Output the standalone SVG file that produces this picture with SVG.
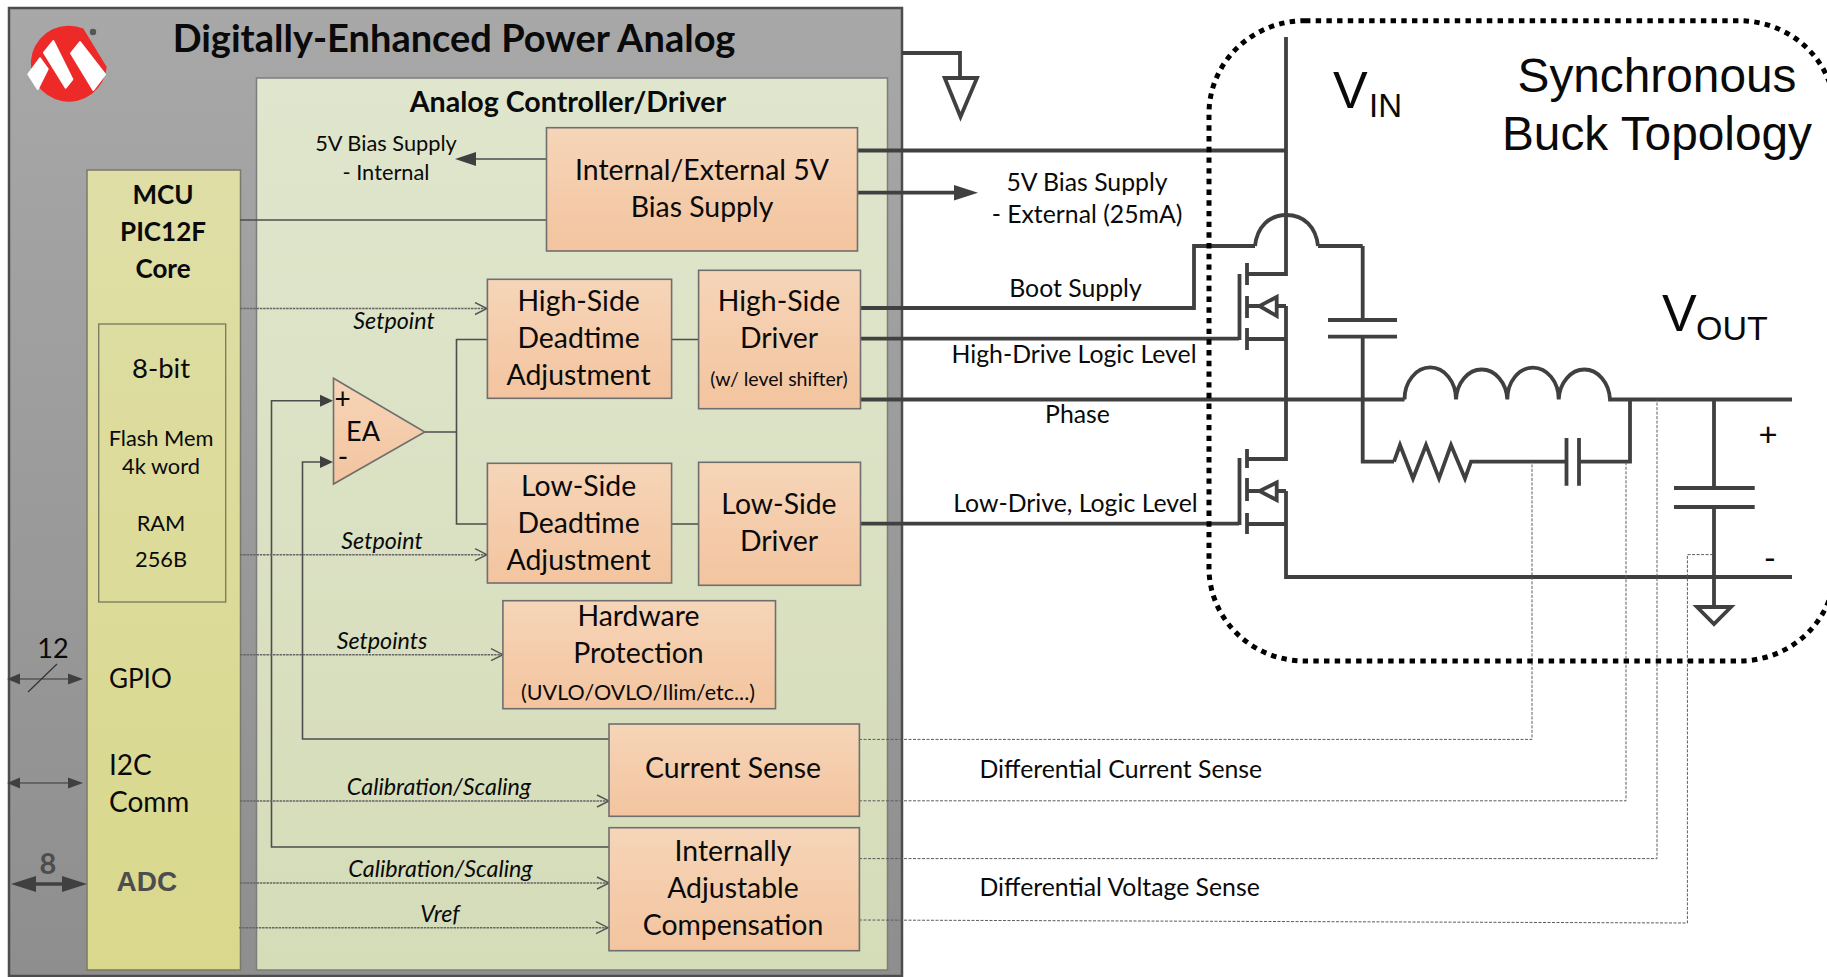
<svg xmlns="http://www.w3.org/2000/svg" width="1827" height="977" viewBox="0 0 1827 977">
<style>
text{font-family:"Lato","Carlito","Liberation Sans",sans-serif;fill:#0a0a0a;text-anchor:middle}
.b{font-weight:700}
.box{font-size:28.400px}
.hd1{font-size:26px}
.sm{font-size:21.800px}
.rt{font-size:24.800px}
.i{font-size:23.300px;font-style:italic}
.ar{font-family:"Liberation Sans",Arial,sans-serif;text-anchor:start}
.st{text-anchor:start}
.node{fill:url(#org);stroke:#6f6f6f;stroke-width:1.6}
.thin{fill:none;stroke:#4d4d4d;stroke-width:1.6}
.dot{fill:none;stroke:#666;stroke-width:1.500;stroke-dasharray:2.500 .8}
.sense{fill:none;stroke:#5c5c5c;stroke-width:1;stroke-dasharray:3 1.500}
.wire{fill:none;stroke:#404040;stroke-width:3.800;stroke-linejoin:miter}
.open{fill:none;stroke:#555;stroke-width:1.400}
.hdd{fill:#404040}
</style>
<defs>
<linearGradient id="gry" x1="0" y1="0" x2="0" y2="1"><stop offset="0" stop-color="#a8a8a8"/><stop offset="1" stop-color="#8e8e8e"/></linearGradient>
<linearGradient id="grn" x1="0" y1="0" x2="0" y2="1"><stop offset="0" stop-color="#e0e6cd"/><stop offset="1" stop-color="#d5dcb8"/></linearGradient>
<linearGradient id="mcu" x1="0" y1="0" x2="0" y2="1"><stop offset="0" stop-color="#dfdea6"/><stop offset="1" stop-color="#d9d88c"/></linearGradient>
<linearGradient id="org" x1="0" y1="0" x2="0" y2="1"><stop offset="0" stop-color="#f6d5b8"/><stop offset="1" stop-color="#f3c49f"/></linearGradient>
<marker id="op" markerWidth="16" markerHeight="16" refX="13" refY="7" orient="auto" markerUnits="userSpaceOnUse"><path d="M1 1L13 7L1 13" class="open"/></marker>
</defs>

<g id="panel">
<rect x="9" y="8" width="893" height="968" fill="url(#gry)" stroke="#4d4d4d" stroke-width="2.500"/>
<rect x="256.500" y="78" width="631" height="892" fill="url(#grn)" stroke="#7d7d7d" stroke-width="1.500"/>
<text x="454" y="52" class="b" font-size="38">Digitally-Enhanced Power Analog</text>
<text x="568" y="112" class="b" font-size="28.600">Analog Controller/Driver</text>
</g>

<g id="logo">
<path d="M83.300 28.500A38 38 0 1 0 106.700 67Z" fill="#ed2a28"/>
<path d="M80 42L105 74.300L93.300 90L71 53.300ZM53.300 41L72.300 79.300L65.700 87.700L44 52.700ZM40 58.300L47.700 69L37.700 89L28.300 74.300Z" fill="#fff" stroke="#fff" stroke-width="2" stroke-linejoin="round"/>
<circle cx="93" cy="32" r="3.200" fill="#555"/>
</g>

<g id="mcu-core">
<rect x="87" y="170" width="153.500" height="800" fill="url(#mcu)" stroke="#7a7a6a" stroke-width="1.500"/>
<text x="163" y="204" class="b hd1">MCU</text>
<text x="163" y="241" class="b hd1">PIC12F</text>
<text x="163" y="278" class="b hd1">Core</text>
<rect x="98.700" y="324" width="127" height="278" fill="none" stroke="#77775f" stroke-width="1.300"/>
<text x="161" y="378" font-size="27.500">8-bit</text>
<text x="161" y="446" class="sm">Flash Mem</text>
<text x="161" y="474" class="sm">4k word</text>
<text x="161" y="531" class="sm">RAM</text>
<text x="161" y="567" class="sm">256B</text>
<text x="109" y="688" class="st" font-size="26">GPIO</text>
<text x="109" y="775" class="st" font-size="28">I2C</text>
<text x="109" y="812" class="st" font-size="28">Comm</text>
<text x="116.500" y="891" class="ar b" font-size="28" style="fill:#4d4d4d">ADC</text>
</g>

<g id="connectors">
<path class="thin" d="M240 220H548M546 159H476"/>
<path class="hdd" d="M455 159L476 152V166Z"/>
<path class="thin" d="M425 432H456.500M487 339.500H456.500V524H487M671.600 339.500H698.600M671.600 524H698.600"/>
<path class="thin" d="M609 847H271.500V400.700H324M609 739H302.500V462H324"/>
<path class="hdd" d="M333 400.700L320 394.700V406.700ZM333 462L320 456V468Z"/>
<path class="dot" d="M240 308.500H487" marker-end="url(#op)"/>
<path class="dot" d="M240 554.700H487" marker-end="url(#op)"/>
<path class="dot" d="M240 654.700H503" marker-end="url(#op)"/>
<path class="dot" d="M240 801H609" marker-end="url(#op)"/>
<path class="dot" d="M240 883H609" marker-end="url(#op)"/>
<path class="dot" d="M239 927.700H608" marker-end="url(#op)"/>
<path class="thin" style="stroke-width:1.500;stroke:#555" d="M14 679H76M14 783H76"/>
<path class="hdd" d="M7 679L20 673.500V684.500ZM83 679L68 673.500V684.500ZM7 783L20 777.500V788.500ZM83 783L68 777.500V788.500Z"/>
<path d="M28 692L57 664" stroke="#333" stroke-width="1.200" fill="none"/>
<path d="M30 884H70" stroke="#404040" stroke-width="3.500"/>
<path class="hdd" d="M11 884L36 876V892ZM87 884L62 876V892Z"/>

<path class="wire" d="M857 150.500H1286M857 192.700H956M860 308H1194V246H1255M1318 246H1362.700"/>
<path class="hdd" d="M978 192.700L954 185V200.500Z"/>
<path class="wire" d="M1255 246C1257 227 1269 215 1286.500 215C1304 215 1316 227 1318 246"/>
<path class="wire" d="M860 338.700H1239M860 399.500H1404.500M860 523.700H1239"/>
<path class="wire" d="M1286 37V274H1248M1362.700 246V320M1328 320H1397M1328 336.700H1397M1362.700 336.700V461.700H1394"/>
<path class="wire" d="M1286 306V459H1248M1286 339H1248M1286 491V577H1792M1286 524H1248M1286 491H1276.700M1286 306H1276.700"/>
<path class="wire" d="M1239.500 274V340M1247 263V285M1247 296V318M1247 328V350M1247 306H1259M1276.700 297L1259.500 306L1276.700 316ZM1239.500 458V525M1247 449V468M1247 478V501M1247 513V534M1247 491H1259M1276.700 482.500L1259.500 491L1276.700 500Z"/>
<path class="wire" d="M1404.500 399.500A25.700 32 0 0 1 1456 399.500A25.700 32 0 0 1 1507.300 399.500A25.700 32 0 0 1 1558.700 399.500A25.700 32 0 0 1 1610 399.500H1792"/>
<path class="wire" d="M1394 461.700L1400 445L1413 478.400L1426 445L1439 478.400L1451 445L1465 478.400L1471 461.700H1566.500M1566.500 438V485.800M1579 438V485.800M1579 461.700H1630V399.500"/>
<path class="wire" d="M1714 399.500V488M1674 488H1754.700M1674 507H1754.700M1714 507V607M1697 607H1731L1714 624Z"/>
<path class="wire" d="M902 53H960V78M944.700 78H977L960.500 116.700Z"/>

<path class="sense" d="M859 739.400H1532V461.700"/>
<path class="sense" d="M859 800.800H1626V461.700"/>
<path class="sense" d="M859 858.600H1657V399.500"/>
<path class="sense" d="M859 920L1687.400 923V554.600H1714"/>

<rect id="topology-boundary" x="1209" y="20.700" width="626" height="640.300" rx="96" ry="93" fill="none" stroke="#000" stroke-width="5" stroke-dasharray="5.400 5.300"/>
</g>

<g id="bias"><rect class="node" x="546.500" y="127.700" width="311" height="123.300"/>
<text x="702" y="180" class="box">Internal/External 5V</text><text x="702" y="217" class="box">Bias Supply</text></g>
<g id="hs-deadtime"><rect class="node" x="487.400" y="279.300" width="184.200" height="119"/>
<text x="578.600" y="311" class="box">High-Side</text><text x="578.600" y="348" class="box">Deadtime</text><text x="578.600" y="385" class="box">Adjustment</text></g>
<g id="hs-driver"><rect class="node" x="698.600" y="270.300" width="161.900" height="138.400"/>
<text x="779" y="311" class="box">High-Side</text><text x="779" y="348" class="box">Driver</text><text x="779" y="386" font-size="19.500">(w/ level shifter)</text></g>
<g id="ls-deadtime"><rect class="node" x="487.400" y="463.300" width="184.200" height="119.700"/>
<text x="578.600" y="496" class="box">Low-Side</text><text x="578.600" y="533" class="box">Deadtime</text><text x="578.600" y="569.500" class="box">Adjustment</text></g>
<g id="ls-driver"><rect class="node" x="698.600" y="462.300" width="161.900" height="123"/>
<text x="779" y="513.500" class="box">Low-Side</text><text x="779" y="551" class="box">Driver</text></g>
<g id="ea"><path class="node" d="M333.500 378.300L424.800 432L333.500 484Z"/>
<text x="363" y="441" font-size="27">EA</text><text x="342.500" y="409" font-size="28">+</text><text x="343" y="467" font-size="28">-</text></g>
<g id="hw-protection"><rect class="node" x="502.900" y="600.700" width="272.600" height="108"/>
<text x="638.400" y="625.500" class="box">Hardware</text><text x="638.400" y="663" class="box">Protection</text><text x="638" y="700" font-size="21.500">(UVLO/OVLO/Ilim/etc...)</text></g>
<g id="current-sense"><rect class="node" x="609" y="724" width="250.400" height="92.300"/>
<text x="733" y="778" class="box">Current Sense</text></g>
<g id="compensation"><rect class="node" x="609" y="827.700" width="250.400" height="123"/>
<text x="733" y="861" class="box">Internally</text><text x="733" y="897.500" class="box">Adjustable</text><text x="733" y="935" class="box">Compensation</text></g>

<g id="labels">
<text x="386" y="151" class="sm">5V Bias Supply</text><text x="386" y="180" class="sm">- Internal</text>
<text x="394" y="329" class="i">Setpoint</text><text x="382" y="549" class="i">Setpoint</text><text x="382" y="649" class="i">Setpoints</text>
<text x="439" y="795" class="i">Calibration/Scaling</text><text x="440.500" y="877" class="i">Calibration/Scaling</text><text x="440" y="922" class="i">Vref</text>
<text x="53" y="658" font-size="27">12</text>
<text x="48" y="874" font-size="29" class="b" style="fill:#4d4d4d">8</text>
<text x="1087" y="191" class="rt">5V Bias Supply</text><text x="1087" y="223" class="rt">- External (25mA)</text>
<text x="1075.500" y="297" class="rt">Boot Supply</text><text x="1074" y="363" class="rt">High-Drive Logic Level</text><text x="1077.500" y="423" class="rt">Phase</text><text x="1075.500" y="511.500" class="rt">Low-Drive, Logic Level</text>
<text x="979.500" y="778" class="rt st">Differential Current Sense</text><text x="979.500" y="896" class="rt st">Differential Voltage Sense</text>
<text x="1768" y="446" font-size="33">+</text><text x="1770" y="570" font-size="33">-</text>
<text x="1657" y="92" class="ar" font-size="47.800" style="text-anchor:middle">Synchronous</text>
<text x="1657" y="150" class="ar" font-size="47.800" style="text-anchor:middle">Buck Topology</text>
<text x="1333" y="108" class="ar" font-size="52">V</text><text x="1369" y="117" class="ar" font-size="33">IN</text>
<text x="1662" y="331" class="ar" font-size="52">V</text><text x="1696" y="340" class="ar" font-size="34">OUT</text>
</g>
</svg>
